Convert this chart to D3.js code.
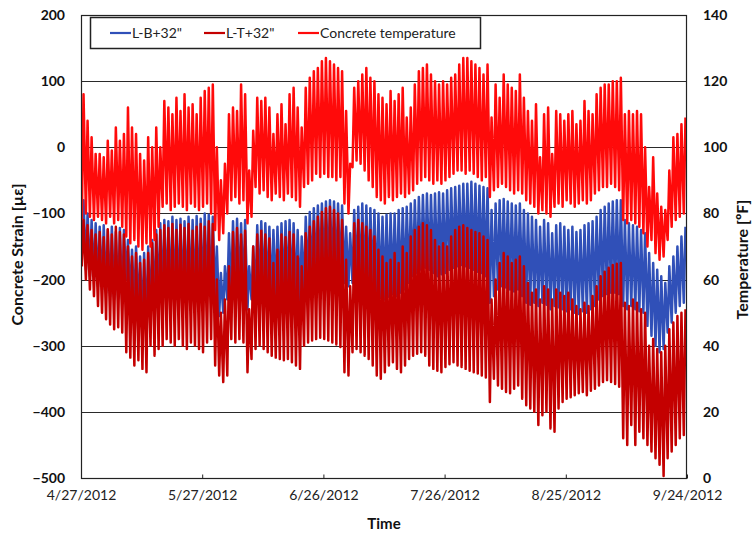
<!DOCTYPE html>
<html><head><meta charset="utf-8">
<script src="https://cdn.jsdelivr.net/npm/d3@7"></script>
<style>body{margin:0;background:#fff}svg{display:block}</style>
</head><body>
<svg id="c" width="754" height="542"></svg>
<script>
const startDate = "2012-04-27";
const endDate = "2012-09-24";
const xTickLabels = ["4/27/2012","5/27/2012","6/26/2012","7/26/2012","8/25/2012","9/24/2012"];
const strainTicks = [200,100,0,-100,-200,-300,-400,-500];
const tempTicks = [140,120,100,80,60,40,20,0];
const seriesNames = ['L-B+32"', 'L-T+32"', 'Concrete temperature'];

// Concrete temperature, daily highs / lows (°F)
const tempHigh = [
116,108,103,98,98,97,102,99,106,102,
104,112,106,104,98,96,103,100,106,100,
114,112,110,115,111,116,112,113,110,115,
117,118,119,100,90,95,110,112,111,119,
116,93,105,115,114,115,112,104,110,113,
107,116,118,112,106,118,121,123,124,126,
127,126,125,124,123,111,95,118,120,122,
124,121,120,116,115,113,117,114,116,118,
109,112,119,123,124,125,122,120,119,120,
119,121,122,125,127,127,126,125,124,122,
125,109,119,115,122,119,118,117,122,115,
111,108,113,97,110,112,98,111,110,108,
110,111,107,108,114,111,110,116,118,119,
119,120,120,121,110,111,110,111,110,100,
88,97,86,82,81,93,103,104,107,109];
const tempLow = [
78,80,79,78,79,78,77,79,77,78,
76,73,71,72,70,69,71,70,72,76,
82,83,81,82,83,82,81,83,82,81,
82,83,80,75,72,74,80,84,85,83,
84,77,79,88,86,87,85,84,86,85,
84,86,85,84,82,88,89,90,92,91,
92,91,91,90,91,83,80,94,96,95,
93,90,88,85,84,83,85,84,85,86,
85,86,87,89,90,91,90,89,90,89,
90,91,92,93,93,92,93,92,91,90,
91,85,87,88,89,88,87,86,87,86,
84,83,82,80,81,80,79,82,83,82,
84,83,82,83,84,83,84,86,87,88,
88,89,88,87,78,77,78,77,76,74,
70,72,68,66,67,72,76,78,79,80];

// L-T+32" strain, daily highs / lows (µε)
const ltHigh = [
-110,-118,-125,-132,-128,-136,-124,-132,-120,-128,
-132,-150,-165,-160,-175,-170,-160,-145,-132,-125,
-118,-122,-116,-125,-117,-122,-116,-126,-120,-116,
-120,-112,-116,-200,-250,-230,-180,-128,-122,-132,
-126,-245,-150,-132,-126,-132,-138,-175,-155,-132,
-136,-128,-132,-165,-180,-130,-120,-112,-105,-98,
-92,-90,-95,-100,-110,-170,-210,-115,-110,-115,
-120,-125,-135,-155,-165,-175,-170,-160,-175,-150,
-160,-135,-125,-120,-115,-118,-125,-140,-150,-145,
-150,-135,-125,-120,-118,-122,-125,-128,-130,-135,
-140,-230,-200,-175,-160,-165,-175,-170,-165,-180,
-205,-220,-215,-230,-210,-215,-230,-215,-220,-225,
-220,-230,-240,-245,-235,-240,-225,-210,-195,-188,
-182,-178,-176,-175,-235,-240,-230,-235,-245,-250,
-300,-290,-305,-310,-300,-275,-265,-255,-250,-245];
const ltLow = [
-180,-200,-215,-225,-240,-250,-260,-268,-275,-272,
-280,-310,-318,-330,-322,-335,-340,-300,-315,-305,
-300,-290,-295,-300,-290,-300,-305,-295,-300,-305,
-310,-295,-290,-330,-345,-355,-345,-290,-295,-290,
-295,-340,-320,-305,-300,-305,-310,-315,-318,-320,
-322,-320,-325,-330,-335,-300,-295,-292,-290,-288,
-290,-292,-295,-298,-302,-340,-345,-310,-305,-310,
-315,-320,-330,-345,-350,-340,-330,-325,-335,-340,
-330,-320,-315,-312,-310,-315,-330,-335,-338,-340,
-332,-328,-325,-330,-332,-335,-338,-340,-342,-345,
-348,-385,-350,-360,-365,-370,-372,-365,-360,-380,
-390,-395,-400,-420,-405,-400,-425,-430,-395,-385,
-380,-378,-375,-372,-370,-375,-368,-365,-360,-355,
-352,-355,-358,-362,-440,-450,-420,-450,-430,-440,
-450,-460,-470,-480,-497,-470,-460,-450,-440,-435];

// L-B+32" strain, daily highs / lows (µε)
const lbHigh = [
-80,-100,-110,-115,-120,-118,-125,-120,-128,-122,
-125,-140,-155,-150,-165,-160,-150,-140,-125,-115,
-110,-112,-105,-110,-108,-112,-105,-110,-104,-108,
-100,-102,-105,-150,-190,-180,-130,-112,-108,-115,
-110,-180,-150,-118,-112,-115,-120,-125,-120,-115,
-112,-110,-115,-125,-135,-105,-98,-92,-88,-85,
-82,-80,-82,-85,-88,-120,-130,-95,-90,-85,
-88,-92,-95,-100,-105,-102,-100,-100,-95,-92,
-90,-85,-80,-75,-72,-70,-72,-70,-68,-70,
-65,-62,-60,-58,-55,-55,-52,-55,-58,-60,
-62,-95,-85,-80,-78,-82,-85,-88,-85,-95,
-100,-105,-110,-120,-110,-115,-130,-118,-115,-120,
-125,-120,-128,-125,-118,-115,-112,-105,-95,-90,
-85,-82,-80,-80,-110,-115,-118,-120,-125,-130,
-160,-175,-185,-195,-205,-180,-165,-150,-135,-120];
const lbLow = [
-160,-185,-195,-200,-210,-215,-220,-225,-230,-228,
-232,-200,-230,-240,-250,-265,-270,-250,-235,-230,
-225,-230,-228,-232,-226,-230,-235,-228,-232,-230,
-228,-225,-230,-230,-255,-250,-230,-220,-222,-218,
-220,-245,-230,-222,-218,-220,-225,-230,-228,-222,
-220,-218,-222,-228,-232,-215,-205,-200,-195,-190,
-188,-185,-190,-195,-200,-205,-210,-205,-200,-205,
-210,-215,-220,-225,-228,-230,-226,-222,-225,-220,
-215,-205,-195,-190,-185,-182,-185,-190,-195,-192,
-190,-185,-182,-180,-178,-180,-182,-185,-188,-190,
-195,-235,-225,-215,-210,-212,-215,-218,-215,-225,
-235,-238,-235,-240,-235,-238,-245,-240,-242,-245,
-248,-245,-250,-252,-248,-250,-245,-240,-230,-225,
-222,-220,-220,-222,-240,-245,-240,-245,-248,-250,
-270,-285,-300,-310,-305,-280,-265,-250,-240,-235];

const colors = ["#3050b8", "#c40000", "#ff0a0a"];

const svg = d3.select("#c");
const W = 754, H = 542;
const m = {left: 81, right: 687, top: 15, bottom: 478};
const parse = d3.timeParse("%Y-%m-%d");
const t0 = parse(startDate), t1 = parse(endDate);
const x = d3.scaleTime().domain([t0, t1]).range([m.left, m.right]);
const yL = d3.scaleLinear().domain([-500, 200]).range([m.bottom, m.top]);
const yR = d3.scaleLinear().domain([0, 140]).range([m.bottom, m.top]);

const font = "Lato, 'Open Sans', sans-serif";

svg.append("rect").attr("width", W).attr("height", H).attr("fill", "#fff");

// gridlines
svg.append("g").selectAll("line").data(strainTicks).join("line")
  .attr("x1", m.left).attr("x2", m.right)
  .attr("y1", d => Math.round(yL(d)) + 0.5).attr("y2", d => Math.round(yL(d)) + 0.5)
  .attr("stroke", "#2a2a2a").attr("stroke-width", 1);

// series
function pts(hi, lo) {
  const out = [];
  hi.forEach((h, i) => {
    const day = d3.timeDay.offset(t0, i);
    out.push([d3.timeHour.offset(day, 5), lo[i]]);
    out.push([d3.timeHour.offset(day, 15), h]);
  });
  return out;
}
svg.append("clipPath").attr("id", "clip").append("rect")
  .attr("x", m.left).attr("y", m.top).attr("width", m.right - m.left).attr("height", m.bottom - m.top);
const gS = svg.append("g").attr("clip-path", "url(#clip)");
const lineL = d3.line().x(d => x(d[0])).y(d => yL(d[1]));
const lineR = d3.line().x(d => x(d[0])).y(d => yR(d[1]));
const sw = 2.5;
gS.append("path").attr("d", lineL(pts(lbHigh, lbLow))).attr("fill", "none")
  .attr("stroke", colors[0]).attr("stroke-width", sw).attr("stroke-linejoin", "round");
gS.append("path").attr("d", lineL(pts(ltHigh, ltLow))).attr("fill", "none")
  .attr("stroke", colors[1]).attr("stroke-width", sw).attr("stroke-linejoin", "round");
gS.append("path").attr("d", lineR(pts(tempHigh, tempLow))).attr("fill", "none")
  .attr("stroke", colors[2]).attr("stroke-width", sw).attr("stroke-linejoin", "round");

// plot border
svg.append("rect").attr("x", m.left + 0.5).attr("y", m.top + 0.5)
  .attr("width", m.right - m.left - 1).attr("height", m.bottom - m.top)
  .attr("fill", "none").attr("stroke", "#222").attr("stroke-width", 1.2);

// x axis
const xTickDates = xTickLabels.map(s => d3.timeParse("%m/%d/%Y")(s));
const xAxis = d3.axisBottom(x).tickValues(xTickDates).tickSize(-4).tickPadding(12)
  .tickFormat((d, i) => xTickLabels[i]);
const gx = svg.append("g").attr("transform", `translate(0,${m.bottom + 0.5})`).call(xAxis);
gx.select(".domain").remove();
gx.selectAll(".tick line").attr("stroke", "#222");
gx.selectAll("text").attr("font-family", font).attr("font-size", 14).attr("fill", "#222");

// left axis
const gl = svg.append("g").attr("transform", `translate(${m.left},0)`)
  .call(d3.axisLeft(yL).tickValues(strainTicks).tickSize(0).tickPadding(16));
gl.select(".domain").remove();
gl.selectAll("text").attr("font-family", font).attr("font-size", 14).attr("font-weight", "bold").attr("fill", "#111");

// right axis
const gr = svg.append("g").attr("transform", `translate(${m.right},0)`)
  .call(d3.axisRight(yR).tickValues(tempTicks).tickSize(0).tickPadding(16));
gr.select(".domain").remove();
gr.selectAll("text").attr("font-family", font).attr("font-size", 14).attr("font-weight", "bold").attr("fill", "#111");

// axis titles
const midY = (m.top + m.bottom) / 2 + 8;
svg.append("text").attr("transform", `translate(23,${midY}) rotate(-90)`)
  .attr("text-anchor", "middle").attr("font-family", font).attr("font-size", 16)
  .attr("font-weight", "bold").attr("fill", "#111").text("Concrete Strain [µε]");
svg.append("text").attr("transform", `translate(748,${midY + 5}) rotate(-90)`)
  .attr("text-anchor", "middle").attr("font-family", font).attr("font-size", 16)
  .attr("font-weight", "bold").attr("fill", "#111").text("Temperature [ºF]");
svg.append("text").attr("x", (m.left + m.right) / 2).attr("y", 529)
  .attr("text-anchor", "middle").attr("font-family", font).attr("font-size", 15)
  .attr("font-weight", "bold").attr("fill", "#111").text("Time");

// legend
const lg = svg.append("g");
lg.append("rect").attr("x", 90.5).attr("y", 17.5).attr("width", 390).attr("height", 31)
  .attr("fill", "#fff").attr("stroke", "#222").attr("stroke-width", 1.5);
const legX = [110, 204, 298];
seriesNames.forEach((name, i) => {
  lg.append("line").attr("x1", legX[i]).attr("x2", legX[i] + 21).attr("y1", 33).attr("y2", 33)
    .attr("stroke", colors[i]).attr("stroke-width", 2.2);
  lg.append("text").attr("x", legX[i] + 22).attr("y", 33).attr("dy", "0.35em")
    .attr("font-family", font).attr("font-size", 14).attr("fill", "#222").text(name);
});
</script>
</body></html>
